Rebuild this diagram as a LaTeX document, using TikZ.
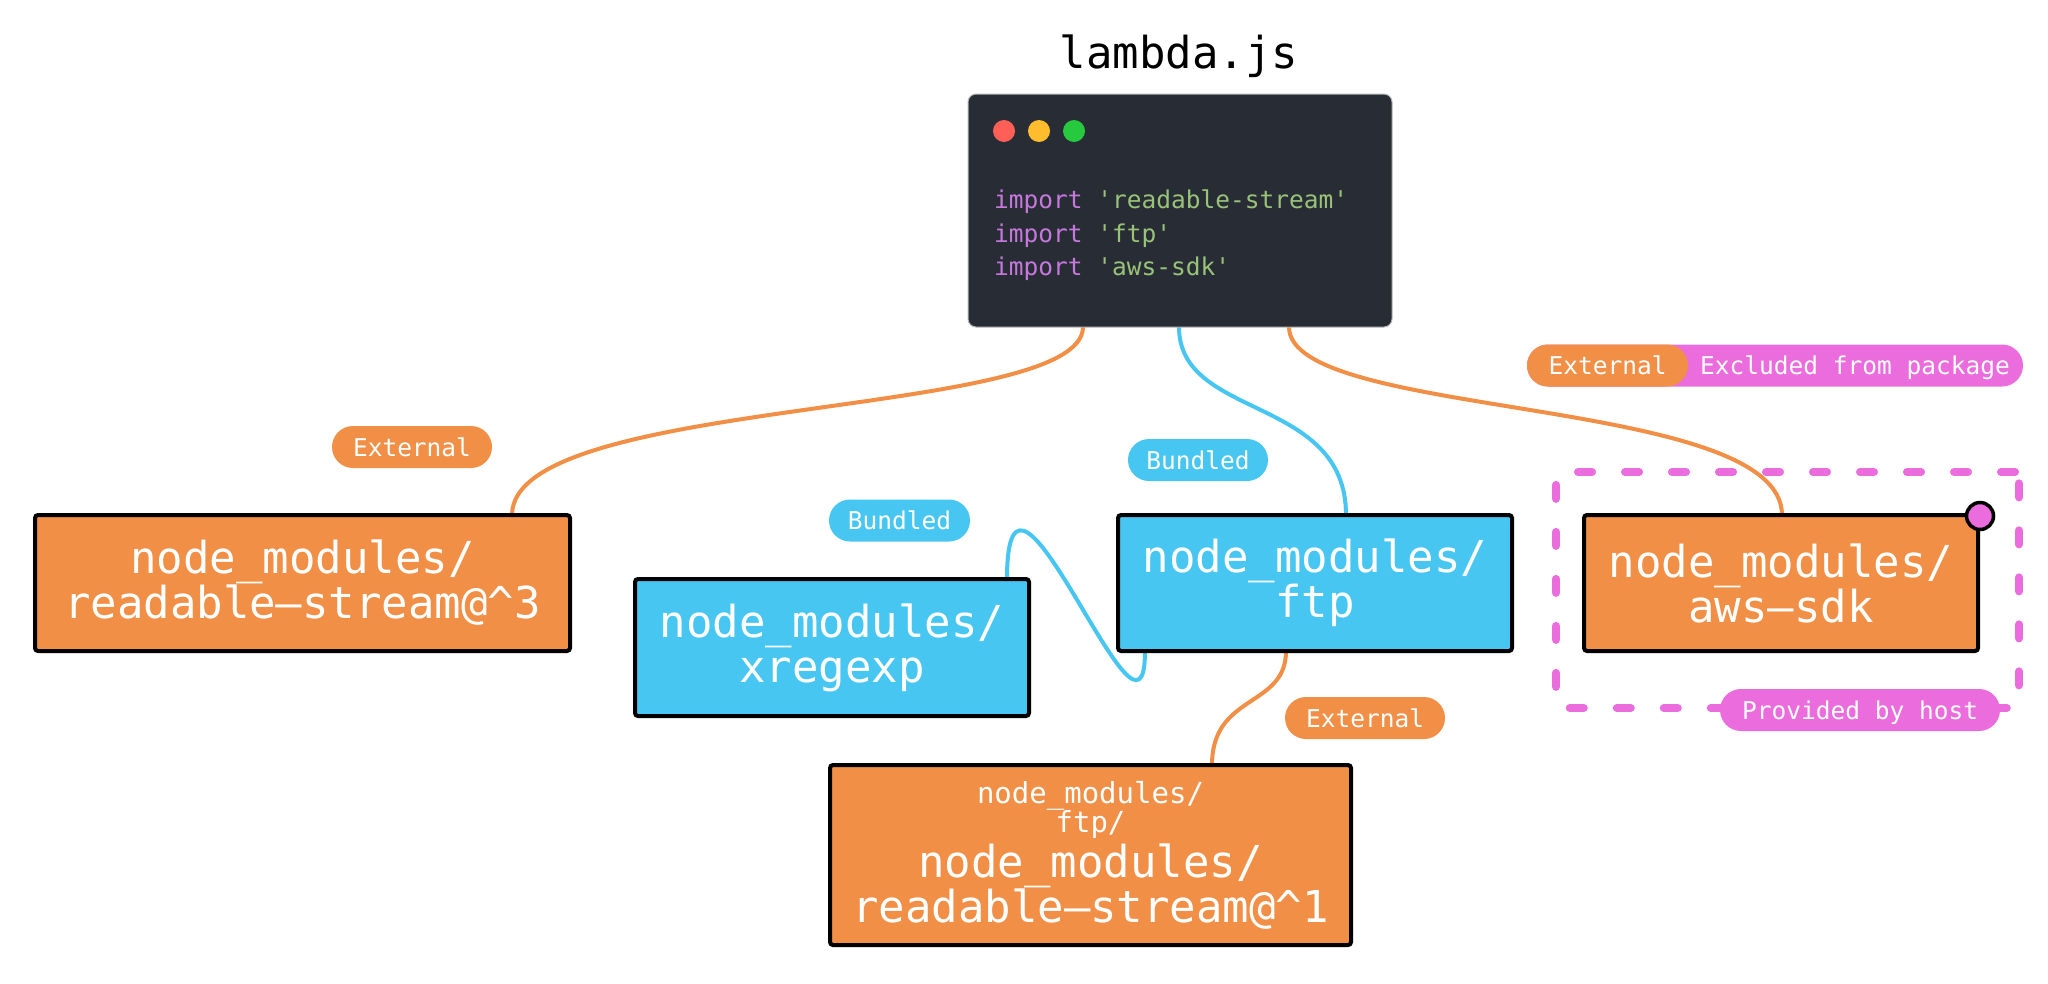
\documentclass[tikz,border=0pt]{standalone}
\usepackage{fontspec}
\setmonofont{DejaVu Sans Mono}
\usetikzlibrary{calc}
\definecolor{orng}{HTML}{F28F46}
\definecolor{blu}{HTML}{48C6F2}
\definecolor{pnk}{HTML}{EA6CDD}
\definecolor{codebg}{HTML}{282C34}
\definecolor{kw}{HTML}{C678DD}
\definecolor{strc}{HTML}{98C379}
\definecolor{dred}{HTML}{FF5F56}
\definecolor{dyel}{HTML}{FFBD2E}
\definecolor{dgrn}{HTML}{27C93F}
\newcommand{\myfs}[2]{\fontsize{#1}{#2}\selectfont}
\pgfdeclarelayer{bgA}
\pgfdeclarelayer{bgB}
\pgfsetlayers{bgA,bgB,main}
\begin{document}
\begin{tikzpicture}[x=1pt,y=-1pt,
  modbox/.style={draw=black,line width=4pt,rounded corners=3pt,inner sep=0pt,outer sep=0pt,text=white,align=center,font=\ttfamily\myfs{44}{45}},
  pill/.style={rounded corners=21pt,inner sep=0pt,outer sep=0pt,minimum height=42pt,text=white,font=\ttfamily\myfs{24.5}{25},text height=18pt,text depth=0pt},
  conn/.style={line width=4pt},
  codeline/.style={anchor=base west,inner sep=0pt,font=\ttfamily\myfs{24.5}{25}},
  boxtext/.style={anchor=base,inner sep=0pt,text=white},
  dot/.style={circle,inner sep=0pt,minimum size=22pt}
]
\useasboundingbox (0,0) rectangle (2048,983);

% title
\node[anchor=base,inner sep=0pt,font=\ttfamily\myfs{44}{45}] (title) at (1179,68) {lambda.js};

% code window
\node[draw=gray!55,line width=1pt,fill=codebg,rounded corners=8pt,inner sep=0pt,outer sep=0pt,minimum width=424pt,minimum height=233pt] (code) at (1180,210.5) {};
\node[dot,fill=dred] (d1) at (1004,131) {};
\node[dot,fill=dyel] (d2) at (1039,131) {};
\node[dot,fill=dgrn] (d3) at (1074,131) {};
\node[codeline] (l1) at (994,208) {\color{kw}import \color{strc}\textquotesingle readable-stream\textquotesingle};
\node[codeline] (l2) at (994,242) {\color{kw}import \color{strc}\textquotesingle ftp\textquotesingle};
\node[codeline] (l3) at (994,275) {\color{kw}import \color{strc}\textquotesingle aws-sdk\textquotesingle};

% module boxes
\node[modbox,fill=orng,minimum width=535pt,minimum height=136pt] (rs3) at (302.5,583) {node\_modules/\\readable–stream@\textasciicircum 3};
\node[modbox,fill=blu,minimum width=394pt,minimum height=137pt] (xre) at (832,647.5) {node\_modules/\\xregexp};
\node[modbox,fill=blu,minimum width=394pt,minimum height=136pt] (ftp) at (1315,583) {node\_modules/\\ftp};
\node[modbox,fill=orng,minimum width=394pt,minimum height=136pt] (aws) at (1781,583) {node\_modules/\\aws–sdk};
\node[modbox,fill=orng,minimum width=521pt,minimum height=180pt] (rs1) at (1090.5,855) {};
\node[boxtext,font=\ttfamily\myfs{29}{29}] (rs1a) at (1090.5,803) {node\_modules/};
\node[boxtext,font=\ttfamily\myfs{29}{29}] (rs1b) at (1090.5,832) {ftp/};
\node[boxtext,font=\ttfamily\myfs{44}{45}] (rs1c) at (1090.5,877) {node\_modules/};
\node[boxtext,font=\ttfamily\myfs{44}{45}] (rs1d) at (1090.5,922) {readable–stream@\textasciicircum 1};

% badge
\node[circle,draw=black,line width=3.5pt,fill=pnk,inner sep=0pt,minimum size=27pt] (badge) at (1980,516) {};

% labels
\node[pill,fill=orng,minimum width=160pt] (extL) at (412,447) {External};
\node[pill,fill=blu,minimum width=141pt] (bunL) at (899.5,520.5) {Bundled};
\node[pill,fill=blu,minimum width=140pt] (bunR) at (1198,460) {Bundled};
\node[pill,fill=orng,minimum width=160pt] (extB) at (1365,718) {External};
\node[pill,fill=pnk,minimum width=496pt] (exclbg) at (1775,365.5) {};
\node[pill,fill=orng,minimum width=161pt] (extA) at (1607.5,365.5) {External};
\node[pill] (excl) at (1855,365.5) {Excluded from package};

% dashed host region
\begin{pgfonlayer}{bgA}
\fill[white] (0,0) rectangle (2048,983);
\node[draw=pnk,line width=8pt,line cap=round,dash pattern=on 14pt off 33pt,rounded corners=4pt,inner sep=0pt,outer sep=0pt,minimum width=463pt,minimum height=236pt] (host) at (1787.5,590) {};
\end{pgfonlayer}
\node[pill,fill=pnk,minimum width=280pt] (prov) at (1860,710) {Provided by host};

% connectors
\begin{pgfonlayer}{bgB}
\coordinate (a1) at ($(code.south west)+(115,0)$);
\coordinate (a2) at ($(code.south west)+(211,0)$);
\coordinate (a3) at ($(code.south west)+(321,0)$);
\coordinate (b1) at ($(rs3.north west)+(477,0)$);
\coordinate (b2) at ($(ftp.north west)+(228,0)$);
\coordinate (b3) at ($(aws.north west)+(198,0)$);
\coordinate (f1) at ($(ftp.south west)+(168,0)$);
\coordinate (f2) at ($(ftp.south west)+(27,0)$);
\coordinate (b4) at ($(rs1.north west)+(382,0)$);
\coordinate (x1) at ($(xre.north west)+(372,0)$);
\draw[conn,orng] (a1) .. controls ($(a1)+(0,93)$) and ($(b1)+(0,-120)$) .. (b1);
\draw[conn,blu] (a2) .. controls ($(a2)+(0,93)$) and ($(b2)+(0,-120)$) .. (b2);
\draw[conn,orng] (a3) .. controls ($(a3)+(0,93)$) and ($(b3)+(0,-120)$) .. (b3);
\draw[conn,orng] (f1) .. controls ($(f1)+(0,57)$) and ($(b4)+(0,-72)$) .. (b4);
\draw[conn,blu] (x1) .. controls ($(x1)+(0,-180)$) and ($(f2)+(0,135)$) .. (f2);
\end{pgfonlayer}
\end{tikzpicture}
\end{document}
